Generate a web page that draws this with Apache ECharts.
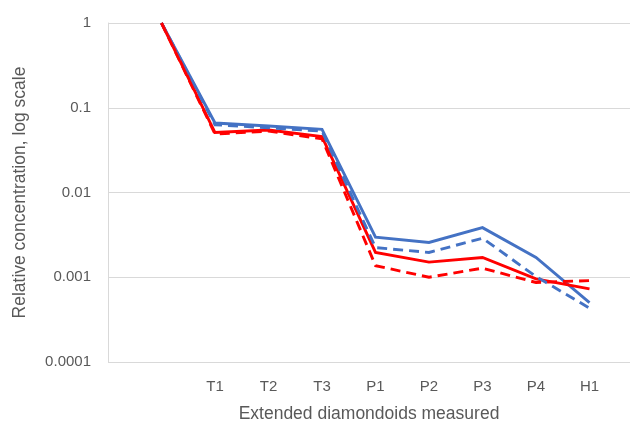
<!DOCTYPE html>
<html>
<head>
<meta charset="utf-8">
<script src="https://cdn.jsdelivr.net/npm/echarts@6/dist/echarts.min.js"></script>
<style>
html,body{margin:0;padding:0;background:#fff;}
#chart{width:630px;height:421px;}
</style>
</head>
<body>
<div id="chart"></div>
<script>
const categories = ['', 'T1', 'T2', 'T3', 'P1', 'P2', 'P3', 'P4', 'H1'];
const blueSolid  = [1, 0.066, 0.061, 0.0557, 0.00297, 0.00257, 0.00385, 0.00171, 0.000503];
const blueDashed = [1, 0.063, 0.058, 0.053, 0.00224, 0.00196, 0.00289, 0.00102, 0.000432];
const redSolid   = [1, 0.051, 0.0547, 0.0457, 0.00196, 0.00151, 0.00171, 0.000957, 0.00073];
const redDashed  = [1, 0.049, 0.053, 0.043, 0.00137, 0.00100, 0.00128, 0.000867, 0.000914];
const yTickLabels = ['0.0001', '0.001', '0.01', '0.1', '1'];

const FONT = 'Liberation Sans';
const TXT = '#595959';

function toXY(arr){ return arr.map((v,i)=>[i,v]); }

function line(name, data, color, dashed){
  return {
    name, type:'line', data: toXY(data), symbol:'none', smooth:false,
    lineStyle:{color, width:2.9, type: dashed ? [10,6] : 'solid', cap:'butt', join:'miter'},
    itemStyle:{color}, z: dashed ? 3 : 2, clip:true
  };
}

const chart = echarts.init(document.getElementById('chart'), null, {renderer:'canvas'});
chart.setOption({
  animation:false,
  backgroundColor:'#ffffff',
  grid:{left:108, right:0, top:23, bottom:59, containLabel:false, outerBoundsMode:'none'},
  xAxis:{
    type:'value', min:-1, max:8.757, interval:1,
    axisLine:{show:false, onZero:false},
    axisTick:{show:false},
    splitLine:{show:false},
    axisLabel:{
      showMinLabel:false, showMaxLabel:false,
      color:TXT, fontFamily:FONT, fontSize:15, margin:17,
      formatter:(v)=>{ const i=Math.round(v); return (Math.abs(v-i)<1e-6 && i>=0 && i<categories.length) ? categories[i] : ''; }
    },
    name:'Extended diamondoids measured',
    nameLocation:'middle', nameGap:43,
    nameTextStyle:{color:TXT, fontFamily:FONT, fontSize:17.5}
  },
  yAxis:{
    type:'log', logBase:10, min:0.0001, max:1,
    axisLine:{show:true, onZero:false, lineStyle:{color:'#d9d9d9', width:1}},
    axisTick:{show:false},
    splitLine:{show:true, lineStyle:{color:'#d9d9d9', width:1}},
    axisLabel:{
      color:TXT, fontFamily:FONT, fontSize:15, margin:17,
      formatter:(v)=>{ const k=Math.round(Math.log10(v))+4; return yTickLabels[k] ?? ''; }
    },
    name:'Relative concentration, log scale',
    nameLocation:'middle', nameGap:79, nameRotate:90,
    nameTextStyle:{color:TXT, fontFamily:FONT, fontSize:17.5}
  },
  series:[
    line('Blue solid', blueSolid, '#4472C4', false),
    line('Blue dashed', blueDashed, '#4472C4', true),
    line('Red solid', redSolid, '#FF0000', false),
    line('Red dashed', redDashed, '#FF0000', true)
  ]
});
</script>
</body>
</html>
